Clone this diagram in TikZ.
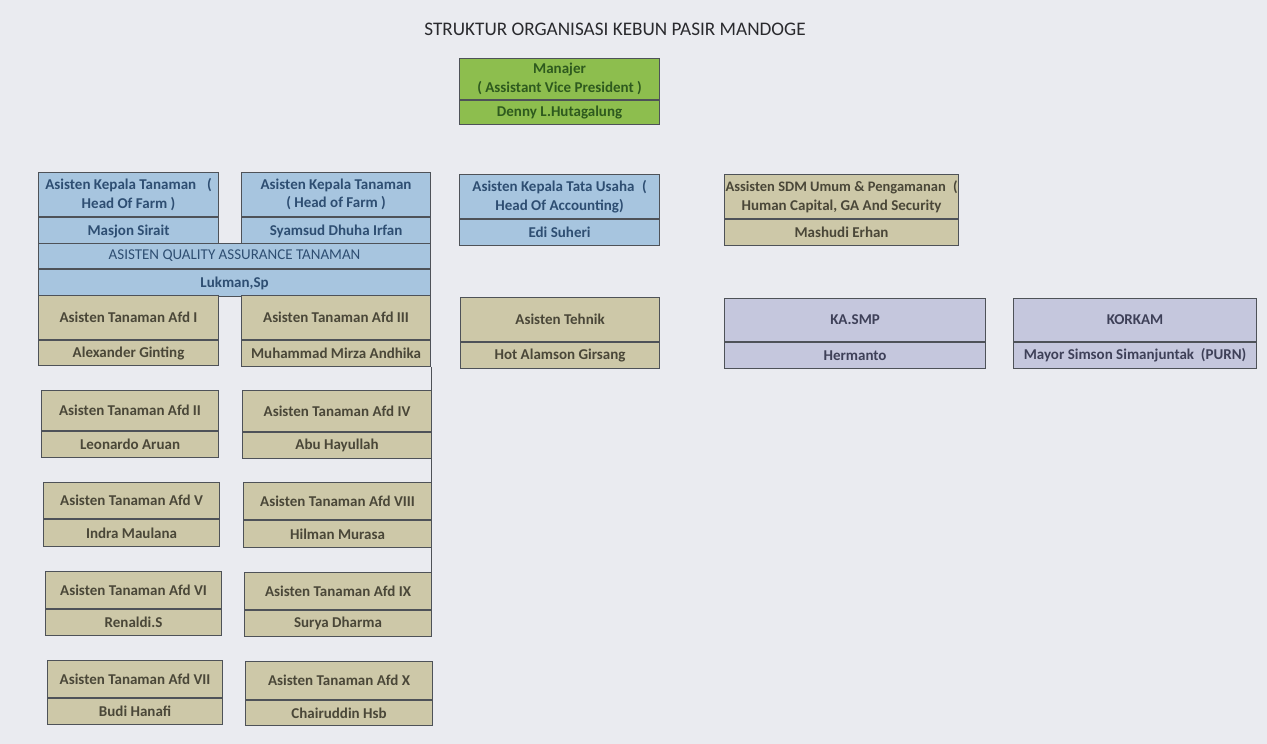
\documentclass[tikz,border=0pt]{standalone}
\usepackage{fontspec}
\setmainfont{Carlito}
\definecolor{bgc}{HTML}{EAEBF0}
\definecolor{linec}{HTML}{4E5258}
\definecolor{gfill}{HTML}{8DBE4E}
\definecolor{gtext}{HTML}{2E5A1E}
\definecolor{bfill}{HTML}{A7C5DF}
\definecolor{btext}{HTML}{2E4E72}
\definecolor{kfill}{HTML}{CDC8A8}
\definecolor{ktext}{HTML}{4A4738}
\definecolor{lfill}{HTML}{C5C7DD}
\definecolor{ltext}{HTML}{3E4058}
\definecolor{titlec}{HTML}{2A2A2E}
\tikzset{
  cell/.style={draw=linec, line width=1.1pt, anchor=north west, inner sep=0.5pt,
    align=center, font=\fontsize{15}{18.5}\selectfont\bfseries},
  greenc/.style={fill=gfill, text=gtext},
  bluec/.style={fill=bfill, text=btext},
  khakic/.style={fill=kfill, text=ktext},
  lavc/.style={fill=lfill, text=ltext},
  connector/.style={draw=linec, line width=1.1pt}
}
% name, x, y, width, top height, bottom height, style, title, person
\newcommand\orgbox[9]{%
  \node[cell,#7,minimum width=#4pt,minimum height=#5pt] (#1t) at (#2,#3) {#8};
  \node[cell,#7,minimum width=#4pt,minimum height=#6pt] (#1n) at (#1t.south west) {#9};
}
\begin{document}
\begin{tikzpicture}[x=1pt,y=-1pt]
\useasboundingbox (0,0) rectangle (1267,744);
\fill[bgc] (0,0) rectangle (1267,744);
\node[font=\fontsize{19.2}{23}\selectfont, text=titlec] (title) at (615,29) {STRUKTUR ORGANISASI KEBUN PASIR MANDOGE};

\orgbox{mgr}{459}{58}{200}{41}{24}{greenc}{Manajer\\( Assistant Vice President )}{Denny L.Hutagalung}

\orgbox{hofa}{38}{172}{180}{44}{27}{bluec}{Asisten Kepala Tanaman\enspace\ (\\Head Of Farm )}{Masjon Sirait}
\orgbox{hofb}{241}{172}{189}{44}{27}{bluec}{Asisten Kepala Tanaman\\( Head of Farm )}{Syamsud Dhuha Irfan}
\orgbox{qa}{38}{243}{392}{25}{27}{bluec}{\mdseries ASISTEN QUALITY ASSURANCE TANAMAN}{Lukman,Sp}

\orgbox{tu}{459}{174}{200}{44}{26}{bluec}{Asisten Kepala Tata Usaha\enspace (\\Head Of Accounting)}{Edi Suheri}
\orgbox{sdm}{724}{174}{234}{44}{26}{khakic}{\fontsize{14.5}{18.5}\selectfont Assisten SDM Umum \& Pengamanan\enspace (\\Human Capital, GA And Security}{Mashudi Erhan}

\orgbox{afda}{38}{295}{180}{44}{25}{khakic}{Asisten Tanaman Afd I}{Alexander Ginting}
\orgbox{afdc}{241}{295}{189}{44}{26}{khakic}{Asisten Tanaman Afd III}{Muhammad Mirza Andhika}

\orgbox{tek}{460}{297}{199}{44}{26}{khakic}{Asisten Tehnik}{Hot Alamson Girsang}
\orgbox{smp}{724}{298}{261}{43}{26}{lavc}{KA.SMP}{Hermanto}
\orgbox{kor}{1013}{298}{243}{43}{26}{lavc}{KORKAM}{Mayor Simson Simanjuntak\ \ (PURN)}

\orgbox{afdb}{41}{390}{177}{40}{26}{khakic}{Asisten Tanaman Afd II}{Leonardo Aruan}
\orgbox{afdd}{242}{390}{189}{41}{26}{khakic}{Asisten Tanaman Afd IV}{Abu Hayullah}
\orgbox{afde}{43}{482}{176}{36}{27}{khakic}{Asisten Tanaman Afd V}{Indra Maulana}
\orgbox{afdh}{243}{482}{188}{37}{27}{khakic}{Asisten Tanaman Afd VIII}{Hilman Murasa}
\orgbox{afdf}{45}{571}{176}{37}{26}{khakic}{Asisten Tanaman Afd VI}{Renaldi.S}
\orgbox{afdi}{244}{572}{187}{37}{26}{khakic}{Asisten Tanaman Afd IX}{Surya Dharma}
\orgbox{afdg}{47}{660}{175}{37}{26}{khakic}{Asisten Tanaman Afd VII}{Budi Hanafi}
\orgbox{afdj}{245}{661}{187}{38}{25}{khakic}{Asisten Tanaman Afd X}{Chairuddin Hsb}

\draw[connector] (afdcn.south east) -- (afdcn.south east |- afdit.north east);
\end{tikzpicture}
\end{document}
